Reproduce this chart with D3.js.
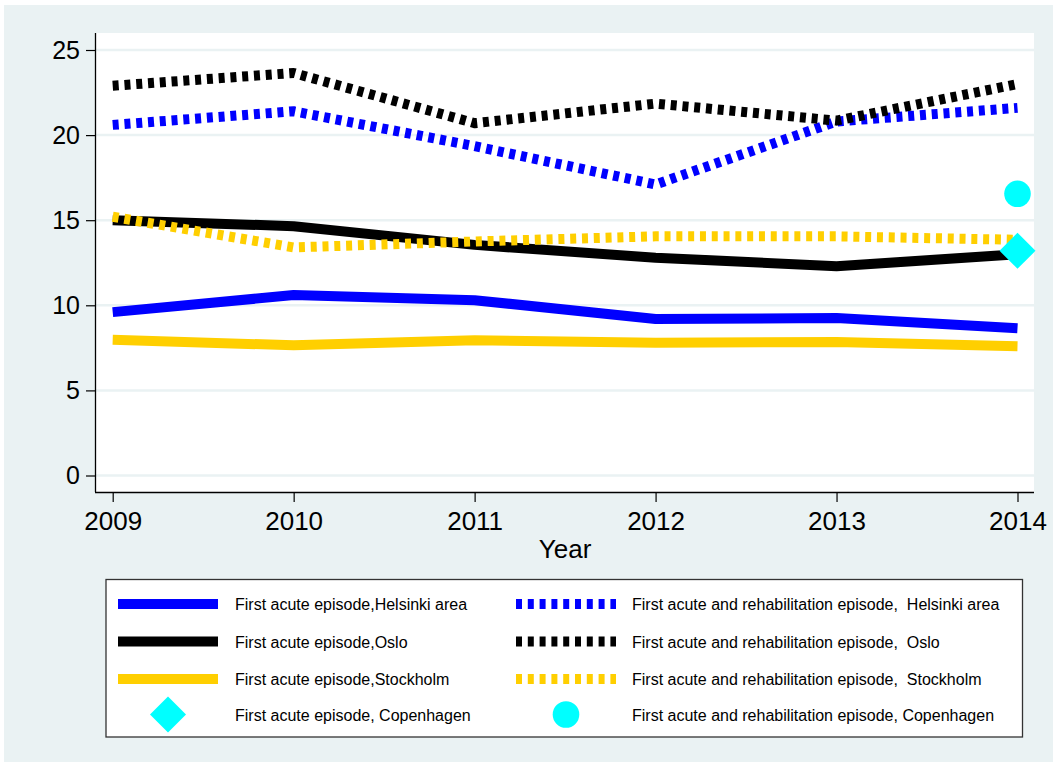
<!DOCTYPE html>
<html>
<head>
<meta charset="utf-8">
<script src="https://cdn.jsdelivr.net/npm/d3@7"></script>
<style>
  html, body { margin: 0; padding: 0; background: #ffffff; }
  svg { display: block; font-family: "Liberation Sans", Arial, Helvetica, sans-serif; }
</style>
</head>
<body>
<svg id="chart" width="1053" height="771"></svg>
<script>
// Years on the x axis
const years = [2009, 2010, 2011, 2012, 2013, 2014];
const yTicks = [0, 5, 10, 15, 20, 25];

// Series values per year
const helsinkiAcute = [9.6, 10.6, 10.3, 9.2, 9.25, 8.65];
const osloAcute = [15.0, 14.65, 13.55, 12.8, 12.3, 13.0];
const stockholmAcute = [7.98, 7.65, 7.95, 7.8, 7.85, 7.6];
const helsinkiRehab = [20.6, 21.4, 19.35, 17.1, 20.8, 21.6];
const osloRehab = [22.9, 23.65, 20.7, 21.85, 20.85, 23.0];
const stockholmRehab = [15.2, 13.4, 13.75, 14.05, 14.05, 13.85];
// Copenhagen has a single year
const copenhagenYear = [2014];
const copenhagenAcute = [13.2];
const copenhagenRehab = [16.55];

const labels = {
  helsinkiAcute: "First acute episode,Helsinki area",
  osloAcute: "First acute episode,Oslo",
  stockholmAcute: "First acute episode,Stockholm",
  copenhagenAcute: "First acute episode, Copenhagen",
  helsinkiRehab: "First acute and rehabilitation episode,  Helsinki area",
  osloRehab: "First acute and rehabilitation episode,  Oslo",
  stockholmRehab: "First acute and rehabilitation episode,  Stockholm",
  copenhagenRehab: "First acute and rehabilitation episode, Copenhagen"
};

const BLUE = "#0000ff", BLACK = "#000000", GOLD = "#ffcf00", CYAN = "#00ffff";
const BG = "#eaf2f3";
const DASH = "6,5.8";

const series = [
  { key: "helsinkiAcute", values: helsinkiAcute, color: BLUE, dash: null },
  { key: "osloAcute", values: osloAcute, color: BLACK, dash: null },
  { key: "stockholmAcute", values: stockholmAcute, color: GOLD, dash: null },
  { key: "helsinkiRehab", values: helsinkiRehab, color: BLUE, dash: DASH },
  { key: "osloRehab", values: osloRehab, color: BLACK, dash: DASH },
  { key: "stockholmRehab", values: stockholmRehab, color: GOLD, dash: DASH }
];

const svg = d3.select("#chart");

// graph region background
svg.append("rect").attr("x", 4).attr("y", 5).attr("width", 1049).attr("height", 757).attr("fill", BG);

// plot region
const plot = { left: 96, right: 1034, top: 33, bottom: 492 };
svg.append("rect")
  .attr("x", plot.left).attr("y", plot.top)
  .attr("width", plot.right - plot.left).attr("height", plot.bottom - plot.top)
  .attr("fill", "#ffffff");

const x = d3.scaleLinear().domain([2009, 2014]).range([112.7, 1017.5]);
const y = d3.scaleLinear().domain([0, 25]).range([475.5, 50]);

// horizontal gridlines
svg.append("g").selectAll("line").data(yTicks).join("line")
  .attr("x1", plot.left).attr("x2", plot.right)
  .attr("y1", d => y(d)).attr("y2", d => y(d))
  .attr("stroke", BG).attr("stroke-width", 2.5);

// y axis
const yAxis = d3.axisLeft(y).tickValues(yTicks).tickSize(10).tickPadding(6).tickFormat(d3.format("d"));
const gy = svg.append("g").attr("transform", `translate(${plot.left},0)`).call(yAxis);
gy.select(".domain").attr("d", `M-0.5,${plot.top}V${plot.bottom}`).attr("stroke", "#000").attr("stroke-width", 1.3);
gy.selectAll(".tick line").attr("stroke", "#000").attr("stroke-width", 1.2);
gy.selectAll(".tick text").attr("font-size", 25).attr("fill", "#000").attr("font-family", "Liberation Sans, Arial, sans-serif");

// x axis
const xAxis = d3.axisBottom(x).tickValues(years).tickSize(10).tickPadding(10).tickFormat(d3.format("d"));
const gx = svg.append("g").attr("transform", `translate(0,${plot.bottom})`).call(xAxis);
gx.select(".domain").attr("d", `M${plot.left - 1},0.5H${plot.right}`).attr("stroke", "#000").attr("stroke-width", 1.3);
gx.selectAll(".tick line").attr("stroke", "#000").attr("stroke-width", 1.2);
gx.selectAll(".tick text").attr("font-size", 26).attr("fill", "#000").attr("font-family", "Liberation Sans, Arial, sans-serif");

// axis title
svg.append("text").attr("x", (x(2011) + x(2012)) / 2).attr("y", 558)
  .attr("text-anchor", "middle").attr("font-size", 26).attr("fill", "#000").text("Year");

// lines
const line = d3.line().x((d, i) => x(years[i])).y(d => y(d));
const lineG = svg.append("g");
series.forEach(s => {
  lineG.append("path")
    .datum(s.values)
    .attr("d", line)
    .attr("fill", "none")
    .attr("stroke", s.color)
    .attr("stroke-width", 10)
    .attr("stroke-linejoin", "round")
    .attr("stroke-dasharray", s.dash);
});

// Copenhagen markers: diamond is a square rotated 45 degrees, half-diagonal ~18px
const diamond = d3.symbol().type(d3.symbolSquare).size(2 * 18 * 18);
svg.append("g").selectAll("path").data(copenhagenAcute).join("path")
  .attr("d", diamond())
  .attr("transform", (d, i) => `translate(${x(copenhagenYear[i])},${y(d)}) rotate(45)`)
  .attr("fill", CYAN);
svg.append("g").selectAll("circle").data(copenhagenRehab).join("circle")
  .attr("cx", (d, i) => x(copenhagenYear[i])).attr("cy", d => y(d)).attr("r", 13.3)
  .attr("fill", CYAN);

// legend
const legend = svg.append("g");
legend.append("rect").attr("x", 106).attr("y", 579.5).attr("width", 916.5).attr("height", 157.5)
  .attr("fill", "#ffffff").attr("stroke", "#333").attr("stroke-width", 1.3);

const rowsY = [604, 641.5, 679, 714.5];
const cols = [
  { keyX: 118, textX: 235 },
  { keyX: 516, textX: 632 }
];
const legendItems = [
  { key: "helsinkiAcute", col: 0, row: 0, color: BLUE, dash: null, kind: "line" },
  { key: "osloAcute", col: 0, row: 1, color: BLACK, dash: null, kind: "line" },
  { key: "stockholmAcute", col: 0, row: 2, color: GOLD, dash: null, kind: "line" },
  { key: "copenhagenAcute", col: 0, row: 3, color: CYAN, kind: "diamond" },
  { key: "helsinkiRehab", col: 1, row: 0, color: BLUE, dash: DASH, kind: "line" },
  { key: "osloRehab", col: 1, row: 1, color: BLACK, dash: DASH, kind: "line" },
  { key: "stockholmRehab", col: 1, row: 2, color: GOLD, dash: DASH, kind: "line" },
  { key: "copenhagenRehab", col: 1, row: 3, color: CYAN, kind: "circle" }
];

legendItems.forEach(it => {
  const c = cols[it.col];
  const yy = rowsY[it.row];
  if (it.kind === "line") {
    legend.append("line")
      .attr("x1", c.keyX).attr("x2", c.keyX + 100)
      .attr("y1", yy).attr("y2", yy)
      .attr("stroke", it.color).attr("stroke-width", 10)
      .attr("stroke-dasharray", it.dash);
  } else if (it.kind === "diamond") {
    legend.append("path").attr("d", diamond())
      .attr("transform", `translate(${c.keyX + 50},${yy}) rotate(45)`)
      .attr("fill", it.color);
  } else {
    legend.append("circle").attr("cx", c.keyX + 50).attr("cy", yy).attr("r", 13.3).attr("fill", it.color);
  }
  legend.append("text")
    .attr("x", c.textX).attr("y", yy + 6)
    .attr("font-size", 16).attr("fill", "#000")
    .attr("xml:space", "preserve").style("white-space", "pre")
    .text(labels[it.key]);
});
</script>
</body>
</html>
